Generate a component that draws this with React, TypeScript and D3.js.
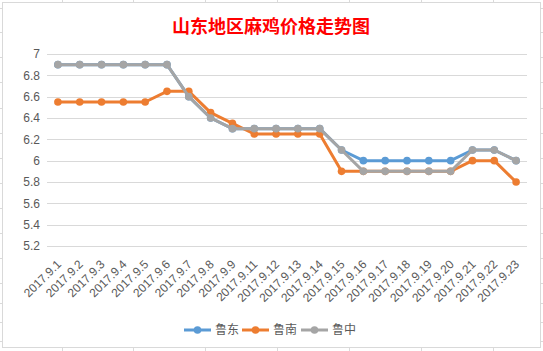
import React, { useEffect, useRef } from 'react';
import * as d3 from 'd3';

const categories = [
  '2017.9.1', '2017.9.2', '2017.9.3', '2017.9.4', '2017.9.5', '2017.9.6', '2017.9.7',
  '2017.9.8', '2017.9.9', '2017.9.11', '2017.9.12', '2017.9.13', '2017.9.14', '2017.9.15',
  '2017.9.16', '2017.9.17', '2017.9.18', '2017.9.19', '2017.9.20', '2017.9.21', '2017.9.22',
  '2017.9.23',
];
const ludong = [6.9, 6.9, 6.9, 6.9, 6.9, 6.9, 6.6, 6.4, 6.3, 6.3, 6.3, 6.3, 6.3, 6.1, 6.0, 6.0, 6.0, 6.0, 6.0, 6.1, 6.1, 6.0];
const lunan = [6.55, 6.55, 6.55, 6.55, 6.55, 6.65, 6.65, 6.45, 6.35, 6.25, 6.25, 6.25, 6.25, 5.9, 5.9, 5.9, 5.9, 5.9, 5.9, 6.0, 6.0, 5.8];
const luzhong = [6.9, 6.9, 6.9, 6.9, 6.9, 6.9, 6.6, 6.4, 6.3, 6.3, 6.3, 6.3, 6.3, 6.1, 5.9, 5.9, 5.9, 5.9, 5.9, 6.1, 6.1, 6.0];
const seriesNames = ['鲁东', '鲁南', '鲁中'];
const seriesColors = ['#5B9BD5', '#ED7D31', '#A5A5A5'];
const yTicks = [5.2, 5.4, 5.6, 5.8, 6, 6.2, 6.4, 6.6, 6.8, 7];
const title = '山东地区麻鸡价格走势图';

// excel sheet cell lines peeking out around the chart frame
const sheetCols = [62, 133, 205, 277, 349, 421, 493];
const sheetRows = [8, 32, 57, 82, 108, 133, 158, 183, 208, 233, 258, 283, 303, 322, 341];

export default function App() {
  const ref = useRef<SVGSVGElement>(null);

  useEffect(() => {
    const W = 543;
    const H = 351;
    const plot = { left: 47, right: 527, top: 54, bottom: 246 };
    const svg = d3.select(ref.current);
    svg.selectAll('*').remove();

    svg.append('rect').attr('width', W).attr('height', H).attr('fill', '#fff');

    const sheet = svg.append('g').attr('stroke', '#DADADA').attr('stroke-width', 1);
    sheetCols.forEach((c) => {
      sheet.append('line').attr('x1', c + 0.5).attr('x2', c + 0.5).attr('y1', 0).attr('y2', H);
    });
    sheetRows.forEach((r) => {
      sheet.append('line').attr('x1', 0).attr('x2', W).attr('y1', r + 0.5).attr('y2', r + 0.5);
    });

    // chart frame
    svg.append('rect')
      .attr('x', 2.5).attr('y', 2.5).attr('width', 538).attr('height', 345)
      .attr('fill', '#fff').attr('stroke', '#D9D9D9');

    svg.append('text')
      .attr('x', 271).attr('y', 33)
      .attr('text-anchor', 'middle')
      .attr('fill', '#FF0000')
      .attr('font-family', '"Noto Sans CJK SC", sans-serif')
      .attr('font-weight', 'bold')
      .attr('font-size', 18)
      .text(title);

    const x = d3.scalePoint<string>().domain(categories).range([plot.left, plot.right]).padding(0.5);
    const y = d3.scaleLinear().domain([5.2, 7]).range([plot.bottom, plot.top]);

    const grid = svg.append('g');
    yTicks.forEach((t) => {
      const yy = Math.round(y(t)) + 0.5;
      grid.append('line')
        .attr('x1', plot.left).attr('x2', plot.right)
        .attr('y1', yy).attr('y2', yy)
        .attr('stroke', '#D9D9D9').attr('stroke-width', 1);
      grid.append('text')
        .attr('x', 40).attr('y', y(t))
        .attr('dy', '0.35em')
        .attr('text-anchor', 'end')
        .attr('fill', '#595959')
        .attr('font-family', '"Liberation Sans", Arial, sans-serif')
        .attr('font-size', 12)
        .text(d3.format('~g')(t));
    });

    const xl = svg.append('g');
    categories.forEach((c) => {
      const px = (x(c) as number) + 4;
      xl.append('text')
        .attr('transform', `translate(${px},${plot.bottom + 19}) rotate(-45)`)
        .attr('text-anchor', 'end')
        .attr('fill', '#595959')
        .attr('font-family', '"Liberation Sans", Arial, sans-serif')
        .attr('font-size', 12)
        .text(c);
    });

    const line = d3.line<number>()
      .x((d, i) => x(categories[i]) as number)
      .y((d) => y(d));

    [ludong, lunan, luzhong].forEach((data, k) => {
      const g = svg.append('g');
      g.append('path')
        .datum(data)
        .attr('fill', 'none')
        .attr('stroke', seriesColors[k])
        .attr('stroke-width', 3)
        .attr('stroke-linejoin', 'round')
        .attr('d', line);
      g.selectAll('circle')
        .data(data)
        .join('circle')
        .attr('cx', (d, i) => x(categories[i]) as number)
        .attr('cy', (d) => y(d))
        .attr('r', 3.8)
        .attr('fill', seriesColors[k]);
    });

    // legend
    const legend = svg.append('g');
    const starts = [184, 242, 301];
    seriesNames.forEach((name, k) => {
      const lx = starts[k];
      const ly = 330;
      legend.append('line')
        .attr('x1', lx).attr('x2', lx + 27)
        .attr('y1', ly).attr('y2', ly)
        .attr('stroke', seriesColors[k]).attr('stroke-width', 3);
      legend.append('circle')
        .attr('cx', lx + 13.5).attr('cy', ly).attr('r', 3.8)
        .attr('fill', seriesColors[k]);
      legend.append('text')
        .attr('x', lx + 31).attr('y', ly)
        .attr('dy', '0.35em')
        .attr('fill', '#595959')
        .attr('font-family', '"Noto Sans CJK SC", sans-serif')
        .attr('font-size', 12)
        .text(name);
    });
  }, []);

  return (
    <svg
      ref={ref}
      width={543}
      height={351}
      style={{ position: 'absolute', left: 0, top: 0, display: 'block' }}
    />
  );
}
